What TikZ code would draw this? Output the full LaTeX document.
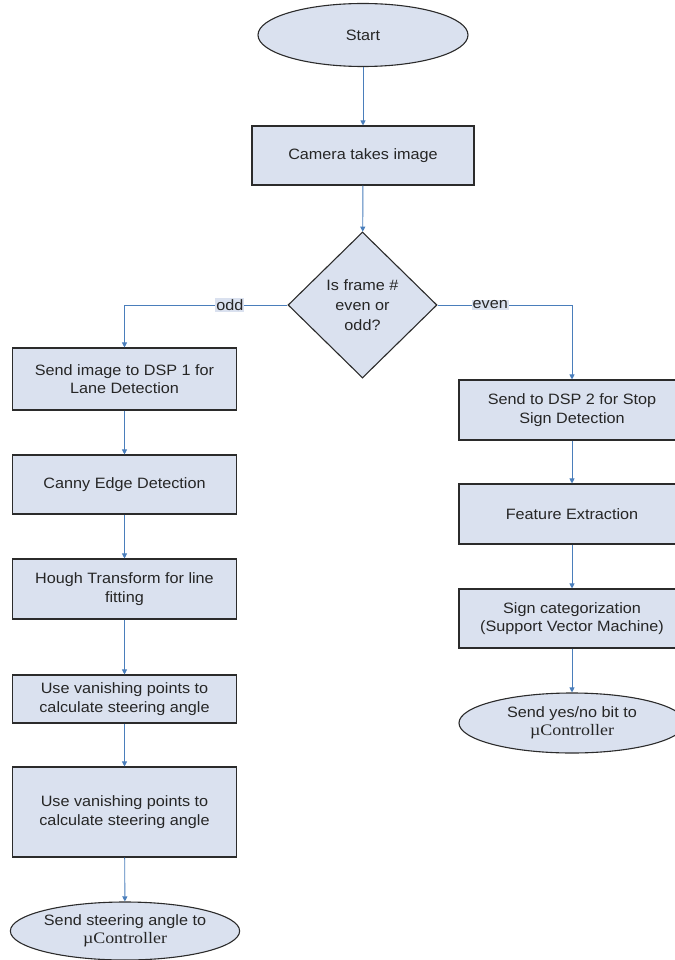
\documentclass[tikz,border=0pt]{standalone}
\usepackage{fontspec}
\setmainfont{Liberation Sans}[FakeStretch=1.08]
\newfontfamily\serifmu{Liberation Serif}[FakeStretch=1.12]
\usetikzlibrary{shapes.geometric,arrows.meta}
\definecolor{boxfill}{HTML}{DAE1EF}
\definecolor{arrblue}{HTML}{4A7EBB}
\definecolor{boxline}{HTML}{2B2B2B}
\definecolor{txt}{HTML}{262626}
\tikzset{
  x=1pt,y=1pt,
  base/.style={draw=boxline,line width=1.1pt,fill=boxfill,align=center,inner sep=2pt,
    text=txt,font=\fontsize{15}{18.5}\selectfont},
  procbox/.style={base,rectangle},
  term/.style={base,ellipse},
  decide/.style={base,diamond,inner sep=0pt,minimum width=149pt,minimum height=146pt,
    font=\fontsize{15}{20}\selectfont},
  arr/.style={draw=arrblue,line width=0.9pt,-{Triangle[length=5pt,width=5pt]}},
  lbl/.style={fill=boxfill,inner sep=1pt,font=\fontsize{15}{18}\selectfont,text=txt}
}
\newcommand{\muctrl}{{\serifmu\fontsize{16}{18}\selectfont\textmu Controller}}
\begin{document}
\begin{tikzpicture}
\useasboundingbox (0,0) rectangle (674,-960);
\node[term,minimum width=210pt,minimum height=63pt] (start) at (363,-35) {Start};
\node[procbox,minimum width=222pt,minimum height=59pt] (cam) at (363,-155.5) {Camera takes image};
\node[decide] (dec) at (362.5,-305) {Is frame \#\\even or\\odd?};

\node[procbox,minimum width=224pt,minimum height=62pt] (l1) at (124.5,-379) {Send image to DSP 1 for\\Lane Detection};
\node[procbox,minimum width=224pt,minimum height=59pt] (l2) at (124.5,-484.5) {Canny Edge Detection};
\node[procbox,minimum width=224pt,minimum height=60pt] (l3) at (124.5,-589) {Hough Transform for line\\fitting};
\node[procbox,minimum width=224pt,minimum height=48pt] (l4) at (124.5,-699) {Use vanishing points to\\calculate steering angle};
\node[procbox,minimum width=224pt,minimum height=90pt] (l5) at (124.5,-812) {Use vanishing points to\\calculate steering angle};
\node[term,minimum width=224pt,minimum height=58pt,inner sep=0pt] (l6) at (125,-931) {Send steering angle to\\\muctrl};

\node[procbox,minimum width=226pt,minimum height=60pt] (r1) at (572,-410) {Send to DSP 2 for Stop\\Sign Detection};
\node[procbox,minimum width=226pt,minimum height=60pt] (r2) at (572,-514) {Feature Extraction};
\node[procbox,minimum width=226pt,minimum height=59pt] (r3) at (572,-618.5) {Sign categorization\\(Support Vector Machine)};
\node[term,minimum width=226pt,minimum height=60pt,inner sep=0pt] (r4) at (572,-723) {Send yes/no bit to\\\muctrl};

\draw[arr] (start) -- (cam);
\draw[arr] (cam) -- (dec);
\draw[arr] (dec.west) -| node[lbl,pos=0.177] {odd} (l1.north);
\draw[arr] (dec.east) -| node[lbl,pos=0.196] {even} (r1.north);
\draw[arr] (l1) -- (l2);
\draw[arr] (l2) -- (l3);
\draw[arr] (l3) -- (l4);
\draw[arr] (l4) -- (l5);
\draw[arr] (l5) -- (l6);
\draw[arr] (r1) -- (r2);
\draw[arr] (r2) -- (r3);
\draw[arr] (r3) -- (r4);
\end{tikzpicture}
\end{document}
